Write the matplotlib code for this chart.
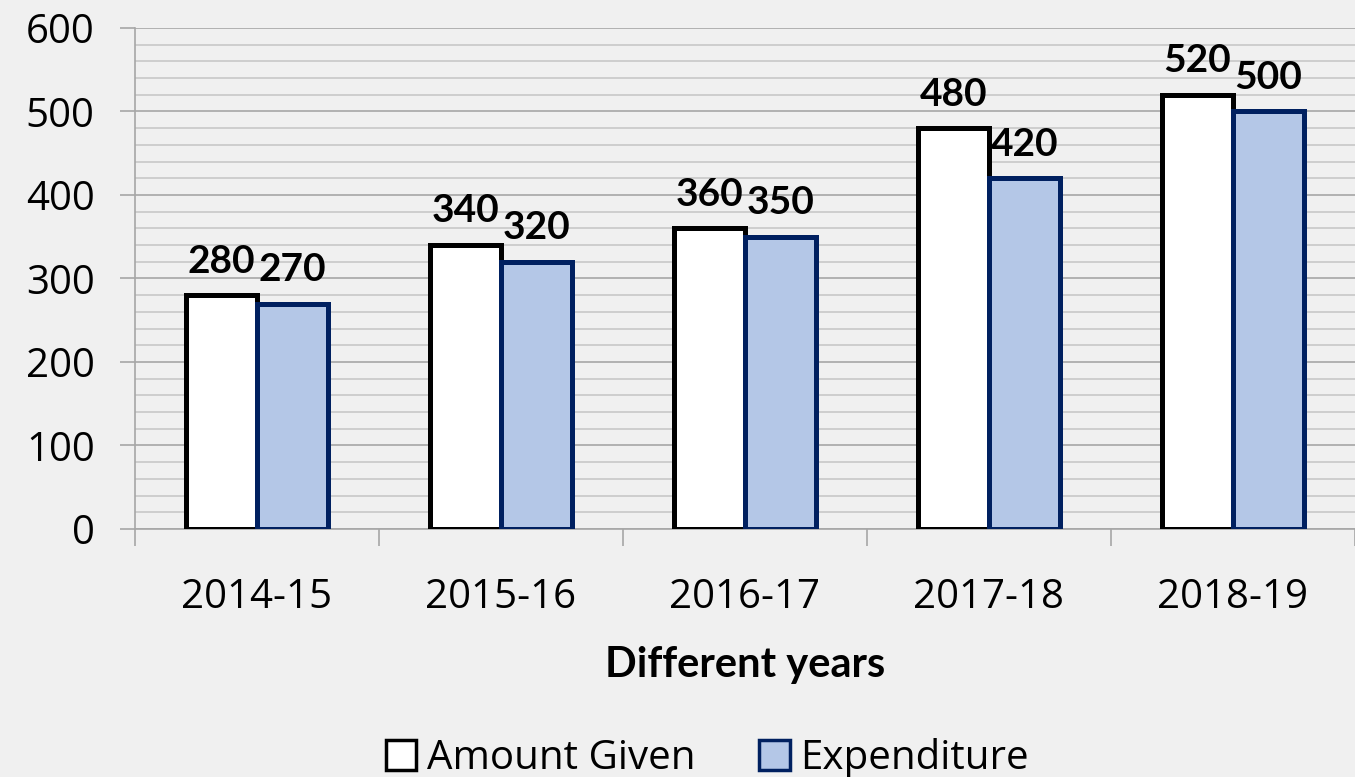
import matplotlib
matplotlib.use("Agg")
import matplotlib.pyplot as plt
import numpy as np
from matplotlib.patches import Patch

# data
years = ["2014-15", "2015-16", "2016-17", "2017-18", "2018-19"]
amount_given = [280, 340, 360, 480, 520]
expenditure = [270, 320, 350, 420, 500]

BG = "#f0f0f0"
BLUE = "#b4c7e7"
NAVY = "#002060"

plt.rcParams["font.family"] = ["Open Sans", "DejaVu Sans"]

fig = plt.figure(figsize=(13.55, 7.77), dpi=100, facecolor=BG)
ax = fig.add_axes([0.0996, 0.3192, 0.9004, 0.6448], facecolor=BG)

x = np.arange(len(years))
w = 0.29
b1 = ax.bar(x - w / 2, amount_given, w, color="white", edgecolor="black", lw=3.6, zorder=3)
b2 = ax.bar(x + w / 2, expenditure, w, color=BLUE, edgecolor=NAVY, lw=3.6, zorder=3)

for bars, vals in ((b1, amount_given), (b2, expenditure)):
    for r, v in zip(bars, vals):
        ax.annotate(str(v), (r.get_x() + r.get_width() / 2, v), xytext=(0, 12),
                    textcoords="offset points", ha="center", va="bottom",
                    fontsize=28, fontweight="bold", family="Lato", zorder=4)

ax.set_ylim(0, 600)
ax.set_xlim(-0.5, 4.48)
ax.set_yticks(range(0, 601, 100))
ax.set_yticks(range(0, 601, 20), minor=True)
ax.grid(axis="y", which="major", color="#a6a6a6", lw=1.2, zorder=0)
ax.grid(axis="y", which="minor", color="#c8c8c8", lw=1.2, zorder=0)
ax.tick_params(axis="y", which="major", length=11, width=1.2, color="#a6a6a6",
               labelsize=29, pad=18)
ax.tick_params(axis="y", which="minor", length=0)

ax.set_xticks(x)
ax.set_xticklabels(years)
ax.set_xticks(np.arange(-0.5, 4.6, 1), minor=True)
ax.tick_params(axis="x", which="major", length=0, labelsize=29, pad=35)
ax.tick_params(axis="x", which="minor", length=12, width=1.2, color="#a6a6a6")

for s in ("top", "right"):
    ax.spines[s].set_visible(False)
for s in ("left", "bottom"):
    ax.spines[s].set_color("#a6a6a6")
    ax.spines[s].set_linewidth(1.2)

ax.set_xlabel("Different years", fontsize=30, fontweight="bold", family="Lato", labelpad=20)

handles = [Patch(facecolor="white", edgecolor="black", lw=2.5, label="Amount Given"),
           Patch(facecolor=BLUE, edgecolor=NAVY, lw=2.5, label="Expenditure")]
fig.legend(handles=handles, loc="center", bbox_to_anchor=(0.522, 0.024), ncol=2,
           frameon=False, fontsize=29, handlelength=0.75, handleheight=0.75,
           handletextpad=0.25, columnspacing=1.6)

fig.savefig("out.png", dpi=100, facecolor=BG)
